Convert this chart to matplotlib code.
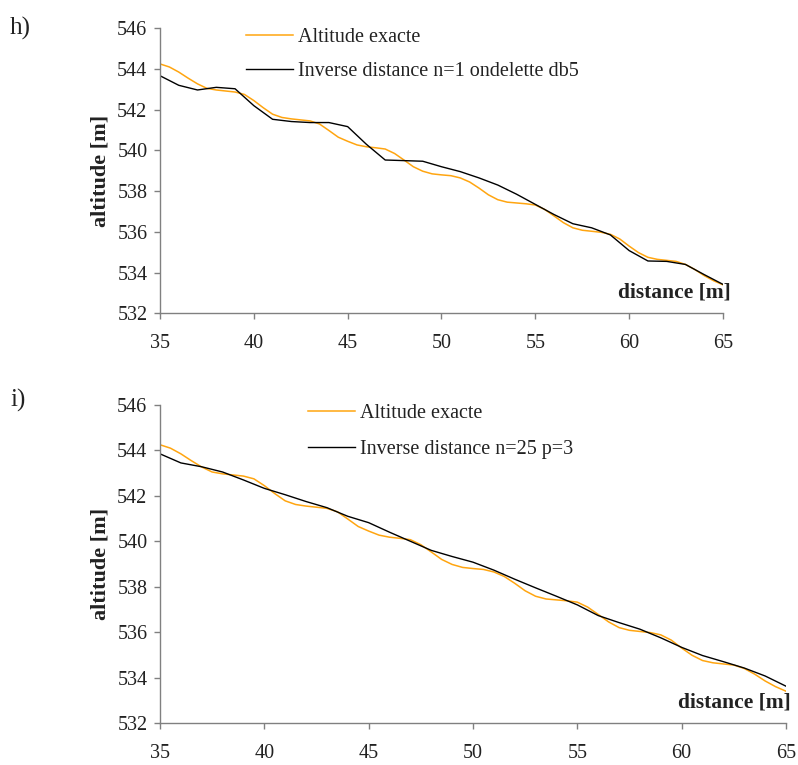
import matplotlib
matplotlib.use("Agg")
import matplotlib.pyplot as plt

plt.rcParams['font.family'] = ['Liberation Serif', 'DejaVu Serif']

# Exact altitude profile, sampled every 0.5 m
dist_exact = [35.0 + 0.5 * i for i in range(61)]
alt_exact = [
    544.25, 544.10, 543.85, 543.55, 543.27, 543.05, 542.97, 542.92, 542.87, 542.75,
    542.45, 542.10, 541.78, 541.62, 541.55, 541.50, 541.45, 541.30, 540.98, 540.65,
    540.45, 540.27, 540.18, 540.13, 540.07, 539.85, 539.53, 539.20, 538.98, 538.85,
    538.80, 538.76, 538.65, 538.45, 538.15, 537.82, 537.58, 537.46, 537.42, 537.38,
    537.32, 537.10, 536.78, 536.45, 536.20, 536.08, 536.03, 535.98, 535.88, 535.65,
    535.30, 534.98, 534.75, 534.65, 534.60, 534.55, 534.40, 534.15, 533.85, 533.60,
    533.40,
]

# Interpolated profiles, one value per metre
dist_int = list(range(35, 66))
alt_idw_db5 = [
    543.67, 543.20, 542.97, 543.10, 543.03, 542.20, 541.53, 541.42, 541.37, 541.37,
    541.17, 540.30, 539.53, 539.50, 539.47, 539.20, 538.96, 538.65, 538.30, 537.85,
    537.35, 536.85, 536.40, 536.20, 535.85, 535.08, 534.57, 534.55, 534.40, 533.90,
    533.42,
]
alt_idw_n25 = [
    543.85, 543.45, 543.28, 543.05, 542.70, 542.33, 542.05, 541.75, 541.48, 541.10,
    540.82, 540.40, 540.00, 539.60, 539.33, 539.08, 538.73, 538.33, 537.95, 537.58,
    537.20, 536.73, 536.42, 536.13, 535.75, 535.33, 534.97, 534.70, 534.42, 534.07,
    533.62,
]

xticks = [35, 40, 45, 50, 55, 60, 65]
yticks = [532, 534, 536, 538, 540, 542, 544, 546]

panels = [
    ("h)", "Inverse distance n=1 ondelette db5", alt_idw_db5),
    ("i)", "Inverse distance n=25 p=3", alt_idw_n25),
]

W, H = 798, 765
fig = plt.figure(figsize=(W / 100, H / 100), dpi=100)

def px_rect(x0, y0, x1, y1):
    return [x0 / W, 1 - y1 / H, (x1 - x0) / W, (y1 - y0) / H]

# axes boxes in pixel coordinates: (left, top, right, bottom)
boxes = [(160, 28.3, 723, 313.3), (160, 405, 786, 723)]
legend_anchor = [(246, 28), (308, 404)]
leg_spacing = [0.72, 0.82]
tag_pos = [(10, 28), (10, 400)]
xlabel_pos = [(731, 293), (791, 703)]

orange = '#FFA510'
grey = '#808080'
ink = '#222222'

for (tag, label, alt_idw), box, lanc, lsp, tpos, xlpos in zip(
        panels, boxes, legend_anchor, leg_spacing, tag_pos, xlabel_pos):
    ax = fig.add_axes(px_rect(*box))
    ax.plot(dist_exact, alt_exact, color=orange, lw=1.1, label='Altitude exacte')
    ax.plot(dist_int, alt_idw, color='black', lw=1.0, label=label)
    ax.set_xlim(35, 65)
    ax.set_ylim(532, 546)
    ax.set_xticks(xticks)
    ax.set_yticks(yticks)
    for s in ('top', 'right'):
        ax.spines[s].set_visible(False)
    for s in ('left', 'bottom'):
        ax.spines[s].set_color(grey)
        ax.spines[s].set_linewidth(1.0)
    ax.tick_params(direction='out', length=4, width=1.0, color=grey,
                   labelsize=14.5, labelcolor=ink)
    ax.tick_params(axis='x', pad=11)
    ax.tick_params(axis='y', pad=5)
    ax.patch.set_alpha(0)

    leg = ax.legend(loc='upper left',
                    bbox_to_anchor=(lanc[0] / W, 1 - lanc[1] / H),
                    bbox_transform=fig.transFigure,
                    frameon=False, fontsize=14.5, handlelength=2.35,
                    handletextpad=0.25, labelspacing=lsp, borderpad=0,
                    borderaxespad=0)
    for t in leg.get_texts():
        t.set_color(ink)

    fig.text(tpos[0] / W, 1 - tpos[1] / H, tag, fontsize=18,
             ha='left', va='center', color=ink)
    fig.text(xlpos[0] / W, 1 - xlpos[1] / H, 'distance [m]', fontsize=15.5,
             fontweight='bold', ha='right', va='center', color=ink)
    cy = (box[1] + box[3]) / 2
    fig.text(100 / W, 1 - cy / H, 'altitude [m]', fontsize=16,
             fontweight='bold', rotation=90, ha='center', va='center',
             color=ink)

fig.savefig('out.png', dpi=100)
